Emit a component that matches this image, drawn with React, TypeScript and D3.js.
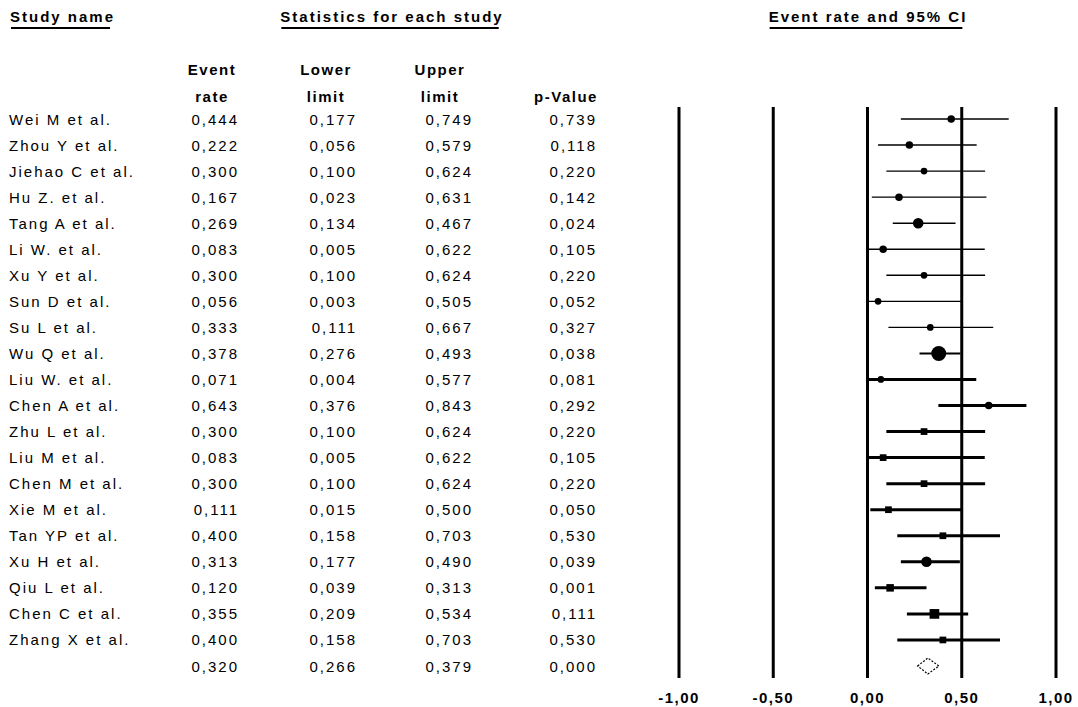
import * as d3 from 'd3';
import * as React from 'react';

const studies = [
  'Wei M  et al.', 'Zhou Y et al.', 'Jiehao C et al.', 'Hu Z. et al.', 'Tang A et al.', 'Li W. et al.',
  'Xu Y et al.', 'Sun D et al.', 'Su L et al.', 'Wu Q et al.', 'Liu W. et al.', 'Chen A et al.',
  'Zhu L et al.', 'Liu M et al.', 'Chen M et al.', 'Xie M et al.', 'Tan YP  et al.', 'Xu H  et al.',
  'Qiu L et al.', 'Chen C  et al.', 'Zhang X et al.',
];
const eventRate = [0.444, 0.222, 0.3, 0.167, 0.269, 0.083, 0.3, 0.056, 0.333, 0.378, 0.071, 0.643, 0.3, 0.083, 0.3, 0.111, 0.4, 0.313, 0.12, 0.355, 0.4];
const lowerLimit = [0.177, 0.056, 0.1, 0.023, 0.134, 0.005, 0.1, 0.003, 0.111, 0.276, 0.004, 0.376, 0.1, 0.005, 0.1, 0.015, 0.158, 0.177, 0.039, 0.209, 0.158];
const upperLimit = [0.749, 0.579, 0.624, 0.631, 0.467, 0.622, 0.624, 0.505, 0.667, 0.493, 0.577, 0.843, 0.624, 0.622, 0.624, 0.5, 0.703, 0.49, 0.313, 0.534, 0.703];
const pValue = [0.739, 0.118, 0.22, 0.142, 0.024, 0.105, 0.22, 0.052, 0.327, 0.038, 0.081, 0.292, 0.22, 0.105, 0.22, 0.05, 0.53, 0.039, 0.001, 0.111, 0.53];
// relative weights
const weights = [4.5, 4.5, 3.6, 4.5, 9, 4.5, 3.6, 3.6, 3.6, 18, 3.6, 4.5, 3.6, 3.6, 3.6, 3.6, 3.6, 9, 4.5, 7.5, 3.6];
const summary = { rate: 0.32, lower: 0.266, upper: 0.379, p: 0.0 };
const tickValues = [-1, -0.5, 0, 0.5, 1];

const FONT = '"Liberation Sans", Arial, sans-serif';

const ForestPlot = () => {
  const ref = React.useRef<SVGSVGElement | null>(null);

  React.useEffect(() => {
    if (!ref.current) return;
    const svg = d3.select(ref.current);
    svg.selectAll('*').remove();

    const locale = d3.formatLocale({ decimal: ',', thousands: '.', grouping: [3], currency: ['', ''], minus: '-' });
    const f3 = locale.format('.3f');
    const f2 = locale.format('.2f');

    const x = d3.scaleLinear().domain([-1, 1]).range([679, 1056]);
    const y = d3.scaleLinear().domain([0, studies.length]).range([119, 666]);
    const size = d3.scaleSqrt().domain([0, d3.max(weights)]).range([0, 15]);

    // headers
    const headers = [
      { text: 'Study name', x: 10, anchor: 'start' },
      { text: 'Statistics for each study', x: 392, anchor: 'middle' },
      { text: 'Event rate and 95% CI', x: 868, anchor: 'middle' },
    ];
    headers.forEach((h) => {
      const t = svg
        .append('text')
        .attr('x', h.x)
        .attr('y', 16)
        .attr('dominant-baseline', 'central')
        .attr('text-anchor', h.anchor)
        .style('font-family', FONT)
        .style('font-weight', 'bold')
        .style('font-size', '15px')
        .style('letter-spacing', '2px')
        .style('fill', '#000')
        .text(h.text);
      const bb = (t.node() as SVGTextElement).getBBox();
      svg
        .append('line')
        .attr('x1', bb.x + 1)
        .attr('x2', bb.x + bb.width - 5)
        .attr('y1', 28)
        .attr('y2', 28)
        .attr('stroke', '#000')
        .attr('stroke-width', 1.8);
    });

    const columns = [
      { lines: ['Event', 'rate'], cx: 212, right: 239 },
      { lines: ['Lower', 'limit'], cx: 326, right: 357 },
      { lines: ['Upper', 'limit'], cx: 440, right: 473 },
      { lines: ['', 'p-Value'], cx: 566, right: 597 },
    ];
    columns.forEach((c) => {
      c.lines.forEach((l, i) => {
        svg
          .append('text')
          .attr('x', c.cx)
          .attr('y', 69 + i * 27)
          .attr('dominant-baseline', 'central')
          .attr('text-anchor', 'middle')
          .style('font-family', FONT)
          .style('font-weight', 'bold')
          .style('font-size', '15px')
          .style('letter-spacing', '1.5px')
          .text(l);
      });
    });

    const textStyle = (sel) =>
      sel
        .attr('dominant-baseline', 'central')
        .style('font-family', FONT)
        .style('font-size', '15px')
        .style('letter-spacing', '2px')
        .style('fill', '#000');

    studies.forEach((name, i) => {
      textStyle(svg.append('text').attr('x', 9).attr('y', y(i)).attr('text-anchor', 'start').text(name));
      [eventRate[i], lowerLimit[i], upperLimit[i], pValue[i]].forEach((v, j) => {
        textStyle(svg.append('text').attr('x', columns[j].right).attr('y', y(i)).attr('text-anchor', 'end').text(f3(v)));
      });
    });
    [summary.rate, summary.lower, summary.upper, summary.p].forEach((v, j) => {
      textStyle(svg.append('text').attr('x', columns[j].right).attr('y', y(studies.length)).attr('text-anchor', 'end').text(f3(v)));
    });

    // vertical reference lines
    tickValues.forEach((t) => {
      svg
        .append('line')
        .attr('x1', x(t))
        .attr('x2', x(t))
        .attr('y1', 107)
        .attr('y2', 678)
        .attr('stroke', '#000')
        .attr('stroke-width', 3);
      svg
        .append('text')
        .attr('x', x(t))
        .attr('y', 697)
        .attr('dominant-baseline', 'central')
        .attr('text-anchor', 'middle')
        .style('font-family', FONT)
        .style('font-weight', 'bold')
        .style('font-size', '15px')
        .style('letter-spacing', '1.5px')
        .text(f2(t));
    });

    const squareRows = new Set([12, 13, 14, 15, 16, 18, 19, 20]);
    const rows = svg.selectAll('.row').data(studies).enter().append('g');

    rows
      .append('line')
      .attr('x1', (d, i) => x(lowerLimit[i]))
      .attr('x2', (d, i) => x(upperLimit[i]))
      .attr('y1', (d, i) => y(i))
      .attr('y2', (d, i) => y(i))
      .attr('stroke', '#000')
      .attr('stroke-width', (d, i) => (i < 9 ? 1.4 : i === 9 ? 2 : 3));

    rows.each(function (d, i) {
      const g = d3.select(this);
      const s = size(weights[i]);
      if (squareRows.has(i)) {
        g.append('rect')
          .attr('x', x(eventRate[i]) - s / 2)
          .attr('y', y(i) - s / 2)
          .attr('width', s)
          .attr('height', s)
          .attr('fill', '#000');
      } else {
        g.append('circle').attr('cx', x(eventRate[i])).attr('cy', y(i)).attr('r', s / 2).attr('fill', '#000');
      }
    });

    // summary diamond
    const sy = y(studies.length);
    const diamond = [
      [x(summary.lower), sy],
      [x(summary.rate), sy - 8],
      [x(summary.upper), sy],
      [x(summary.rate), sy + 8],
    ];
    svg
      .append('path')
      .attr('d', d3.line()(diamond as [number, number][]) + 'Z')
      .attr('fill', 'none')
      .attr('stroke', '#000')
      .attr('stroke-width', 1.2)
      .attr('stroke-dasharray', '2,1.5');
  }, []);

  return <svg ref={ref} width={1078} height={707} style={{ position: 'absolute', left: 0, top: 0, background: '#fff' }} />;
};

export default function App() {
  return <ForestPlot />;
}
